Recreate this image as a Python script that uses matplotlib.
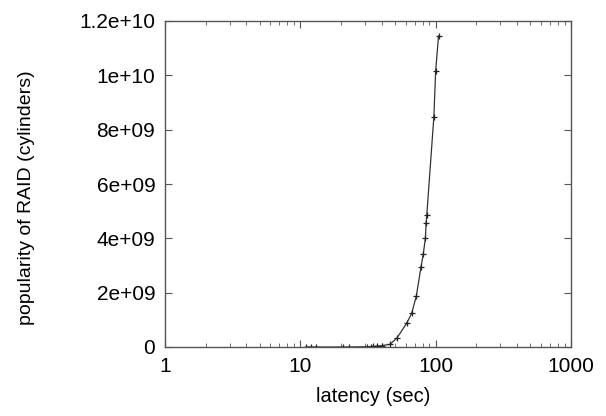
import numpy as np
import matplotlib.pyplot as plt
from matplotlib.ticker import FixedLocator, LogLocator, NullFormatter

latency = [11, 12, 13, 20.5, 23, 31, 33, 34.5, 37, 40, 46, 51.5, 61, 66.5, 72, 78, 81, 84, 85, 86, 97, 100, 105]
popularity = [0, 0, 0, 0, 0, 0.01e9, 0.015e9, 0.02e9, 0.035e9, 0.05e9, 0.1e9, 0.32e9, 0.87e9, 1.24e9,
              1.88e9, 2.96e9, 3.42e9, 4.02e9, 4.56e9, 4.86e9, 8.48e9, 10.17e9, 11.45e9]
y_ticks = [0, 2e9, 4e9, 6e9, 8e9, 1e10, 1.2e10]
y_labels = ["0", "2e+09", "4e+09", "6e+09", "8e+09", "1e+10", "1.2e+10"]
x_ticks = [1, 10, 100, 1000]
x_labels = ["1", "10", "100", "1000"]

plt.rcParams['font.family'] = ['Liberation Sans', 'DejaVu Sans']

fig = plt.figure(figsize=(6.06, 4.16), dpi=100)
ax = fig.add_axes([165 / 606, 1 - 347 / 416, (571 - 165) / 606, (347 - 21) / 416])

ax.plot(latency, popularity, color='#333333', lw=0.9, marker='+', ms=5, mew=0.9, mec='#222222')

ax.set_xscale('log')
ax.set_xlim(1, 1000)
ax.set_ylim(0, 1.2e10)
ax.xaxis.set_major_locator(FixedLocator(x_ticks))
ax.set_xticklabels(x_labels)
ax.xaxis.set_minor_locator(LogLocator(base=10, subs=np.arange(2, 10)))
ax.xaxis.set_minor_formatter(NullFormatter())
ax.set_yticks(y_ticks)
ax.set_yticklabels(y_labels)

ax.tick_params(which='both', direction='in', top=True, right=True, colors='#555555',
               labelcolor='black', labelsize=15)
ax.tick_params(which='major', length=5, width=0.8, pad=7)
ax.tick_params(which='minor', length=3, width=0.6)
for s in ax.spines.values():
    s.set_color('#555555')
    s.set_linewidth(1.0)

fig.text(373 / 606, 1 - 397 / 416, "latency (sec)", fontsize=14.5, ha='center', va='center')
fig.text(27 / 606, 1 - 198 / 416, "popularity of RAID (cylinders)", fontsize=14,
         rotation=90, ha='center', va='center')

fig.savefig("out.png", dpi=100)
